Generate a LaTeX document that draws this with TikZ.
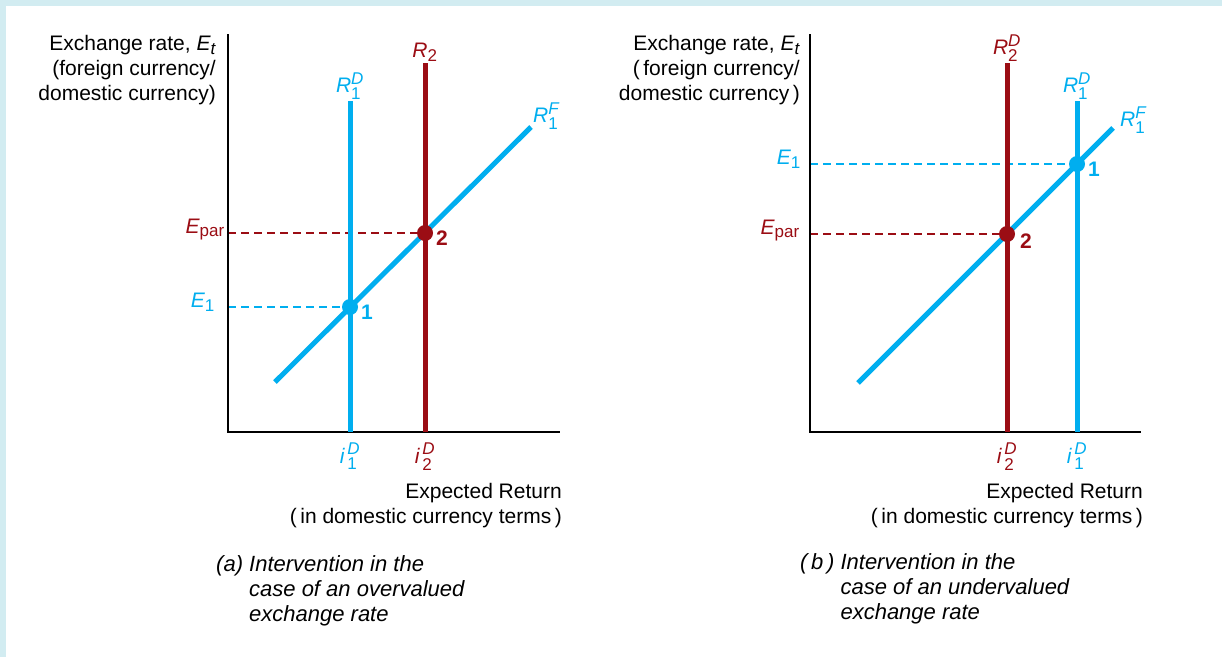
\documentclass[tikz,border=0pt]{standalone}
\usepackage{amsmath}
\usepackage{fontspec}
\setmainfont{Liberation Sans}
\DeclareMathSizes{21}{21}{17}{13}

\definecolor{curveblue}{HTML}{00AEEF}
\definecolor{curvered}{HTML}{9B0D14}
\definecolor{framebg}{HTML}{D2ECF1}

% подписи кривых и ставок
\newcommand{\curvelab}[3]{$\textit{#1}^{\textit{#3}}_{\text{#2}}$}
\newcommand{\ratelab}[2]{$\textit{i}^{\,\textit{#2}}_{\,\text{#1}}$}

\begin{document}
\begin{tikzpicture}[
    x=1pt,y=-1pt,
    line cap=butt,
    line join=miter,
    axis/.style={line width=1.4pt},
    curve/.style={line width=5pt},
    guide/.style={line width=1.2pt,dash pattern=on 8pt off 5pt},
    dot/.style={circle,inner sep=0pt,minimum size=16pt},
    lab/.style={inner sep=0pt,font=\fontsize{21}{25}\selectfont},
    caplab/.style={inner sep=0pt,anchor=north west,font=\fontsize{22}{25}\selectfont\itshape},
    numlab/.style={inner sep=0pt,anchor=west,xshift=11pt,yshift=-5pt,
        font=\fontsize{21}{25}\selectfont\bfseries}
]

% -------------------------------------------------
% Фон и рамка
% -------------------------------------------------
\useasboundingbox (0,0) rectangle (1222,657);
\fill[framebg] (0,0) rectangle (1222,657);
\fill[white] (6,6) rectangle (1222,657);

% =================================================
% (a) Завышенный курс
% =================================================

% -------------------------------------------------
% Оси
% -------------------------------------------------
\coordinate (Oa) at (228,432);  % начало координат
\coordinate (Ya) at (228,34);   % верх оси E
\coordinate (Xa) at (560,432);  % конец оси доходности

% -------------------------------------------------
% Кривые
% -------------------------------------------------
\coordinate (Da) at (350,101);  % верх R_1^D
\coordinate (Ra) at (425,63);   % верх R_2
\coordinate (Fa0) at (275,382); % низ R_1^F
\coordinate (Fa1) at (531,127); % верх R_1^F
\coordinate (Pa1) at (350,307); % равновесие 1
\coordinate (Pa2) at (425,233); % равновесие 2

% Пунктирные уровни
\draw[guide,curvered] (Oa |- Pa2) -- (Pa2);
\draw[guide,curveblue] (Oa |- Pa1) -- (Pa1);

% Оси
\draw[axis] (Ya) -- (Oa) -- (Xa);

% Линии доходности
\draw[curve,curveblue] (Da) -- (Da |- Oa);
\draw[curve,curvered] (Ra) -- (Ra |- Oa);
\draw[curve,curveblue] (Fa0) -- (Fa1);

% Точки
\node[dot,fill=curveblue] (dota1) at (Pa1) {};
\node[dot,fill=curvered] (dota2) at (Pa2) {};
\node[numlab,text=curveblue] (numa1) at (Pa1) {1};
\node[numlab,text=curvered] (numa2) at (Pa2) {2};

% -------------------------------------------------
% Подписи
% -------------------------------------------------
\node[lab,align=right,anchor=north east] (ytitlea) at (216,35)
    {Exchange rate, $\textit{E}_{\textit{t}}$\\(foreign currency/\\domestic currency)};
\node[lab,align=right,anchor=north east] (xtitlea) at (562,483)
    {Expected Return\\(\,in domestic currency terms\,)};
\node[lab,text=curveblue,above=1pt] (labDa) at (Da) {\curvelab{R}{1}{D}};
\node[lab,text=curvered,above=1pt] (labRa) at (Ra) {$\textit{R}_{\text{2}}$};
\node[lab,text=curveblue,anchor=south west,xshift=2pt,yshift=-3pt] (labFa) at (Fa1) {\curvelab{R}{1}{F}};
\node[lab,text=curvered,anchor=base east,xshift=-3pt] (labEpa) at (Oa |- Pa2) {$\textit{E}_{\text{par}}$};
\node[lab,text=curveblue,anchor=base east,xshift=-13pt] (labE1a) at (Oa |- Pa1) {$\textit{E}_{\text{1}}$};
\node[lab,text=curveblue,below=11pt] (labi1a) at (Da |- Oa) {\ratelab{1}{D}};
\node[lab,text=curvered,below=11pt] (labi2a) at (Ra |- Oa) {\ratelab{2}{D}};
\node[caplab] (capa) at (216,554)
    {\begin{tabular}{@{}l@{\ }l@{}}(a)&Intervention in the\\&case of an overvalued\\&exchange rate\end{tabular}};

% =================================================
% (b) Заниженный курс
% =================================================

% -------------------------------------------------
% Оси
% -------------------------------------------------
\coordinate (Ob) at (810,432);  % начало координат
\coordinate (Yb) at (810,34);   % верх оси E
\coordinate (Xb) at (1141,432); % конец оси доходности

% -------------------------------------------------
% Кривые
% -------------------------------------------------
\coordinate (Rb) at (1007,63);   % верх R_2^D
\coordinate (Db) at (1077,101);  % верх R_1^D
\coordinate (Fb0) at (858,383);  % низ R_1^F
\coordinate (Fb1) at (1113,128); % верх R_1^F
\coordinate (Pb1) at (1077,164); % равновесие 1
\coordinate (Pb2) at (1007,234); % равновесие 2

% Пунктирные уровни
\draw[guide,curveblue] (Ob |- Pb1) -- (Pb1);
\draw[guide,curvered] (Ob |- Pb2) -- (Pb2);

% Оси
\draw[axis] (Yb) -- (Ob) -- (Xb);

% Линии доходности
\draw[curve,curvered] (Rb) -- (Rb |- Ob);
\draw[curve,curveblue] (Db) -- (Db |- Ob);
\draw[curve,curveblue] (Fb0) -- (Fb1);

% Точки
\node[dot,fill=curveblue] (dotb1) at (Pb1) {};
\node[dot,fill=curvered] (dotb2) at (Pb2) {};
\node[numlab,text=curveblue] (numb1) at (Pb1) {1};
\node[numlab,text=curvered,xshift=2pt,yshift=-2pt] (numb2) at (Pb2) {2};

% -------------------------------------------------
% Подписи
% -------------------------------------------------
\node[lab,align=right,anchor=north east] (ytitleb) at (800,35)
    {Exchange rate, $\textit{E}_{\textit{t}}$\\(\,foreign currency/\\domestic currency\,)};
\node[lab,align=right,anchor=north east] (xtitleb) at (1143,483)
    {Expected Return\\(\,in domestic currency terms\,)};
\node[lab,text=curvered,above=1pt] (labRb) at (Rb) {\curvelab{R}{2}{D}};
\node[lab,text=curveblue,above=1pt] (labDb) at (Db) {\curvelab{R}{1}{D}};
\node[lab,text=curveblue,anchor=south west,xshift=7pt,yshift=-6pt] (labFb) at (Fb1) {\curvelab{R}{1}{F}};
\node[lab,text=curveblue,anchor=base east,xshift=-9pt] (labE1b) at (Ob |- Pb1) {$\textit{E}_{\text{1}}$};
\node[lab,text=curvered,anchor=base east,xshift=-10pt] (labEpb) at (Ob |- Pb2) {$\textit{E}_{\text{par}}$};
\node[lab,text=curvered,below=11pt] (labi2b) at (Rb |- Ob) {\ratelab{2}{D}};
\node[lab,text=curveblue,below=11pt] (labi1b) at (Db |- Ob) {\ratelab{1}{D}};
\node[caplab] (capb) at (800,552)
    {\begin{tabular}{@{}l@{\ }l@{}}(\,b\,)&Intervention in the\\&case of an undervalued\\&exchange rate\end{tabular}};

\end{tikzpicture}
\end{document}
